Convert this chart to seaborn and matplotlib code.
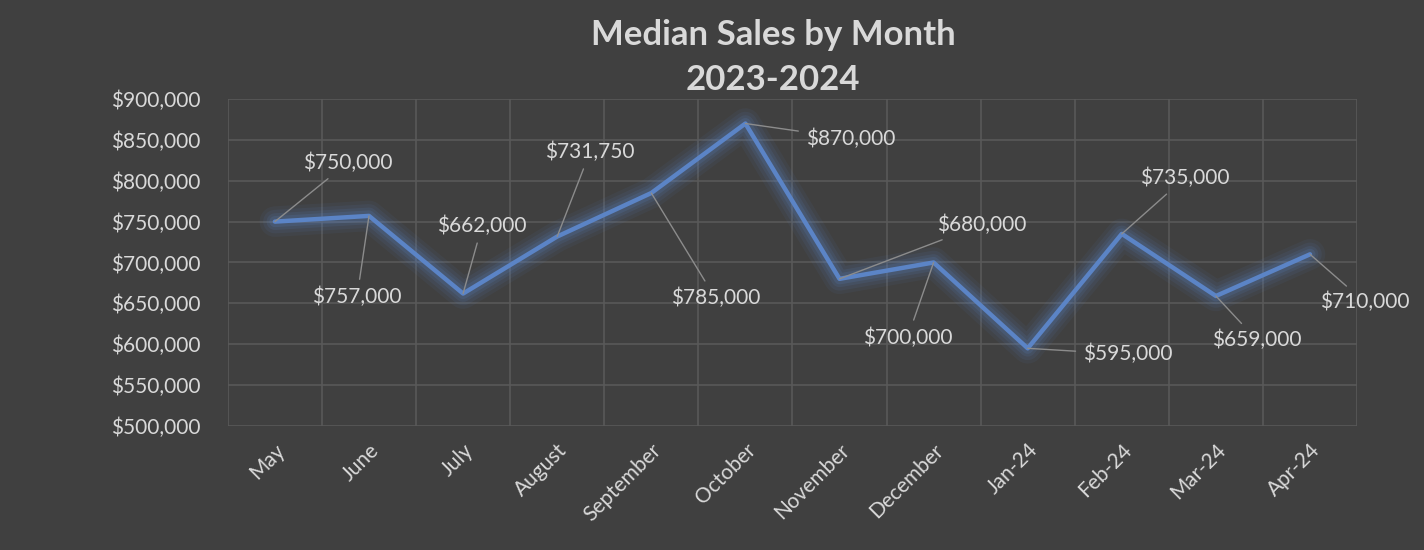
import pandas as pd
import matplotlib.pyplot as plt
import matplotlib.ticker as mticker
import seaborn as sns

# chart values
months = ["May", "June", "July", "August", "September", "October",
          "November", "December", "Jan-24", "Feb-24", "Mar-24", "Apr-24"]
median_sales = [750000, 757000, 662000, 731750, 785000, 870000,
                680000, 700000, 595000, 735000, 659000, 710000]

# label offsets in pixels from each point (style only)
label_offsets = [(73, 59), (-12, -81), (19, 68), (33, 85), (64, -105), (105, -15),
                 (142, 54), (-26, -75), (100, -6), (63, 56), (41, -44), (55, -48)]

bg = "#404040"
text_color = "#d9d9d9"
grid_color = "#595959"
line_color = "#5b84c6"

sns.set_style("dark")
plt.rcParams["font.family"] = ["Lato", "DejaVu Sans"]

data = pd.DataFrame({"month": months, "sales": median_sales})

fig = plt.figure(figsize=(14.24, 5.5), dpi=100, facecolor=bg)
ax = fig.add_axes([0.160, 0.2255, 0.793, 0.5945])
ax.set_facecolor(bg)

# soft glow under the line
for lw, a in [(22, 0.07), (17, 0.09), (12, 0.12), (8, 0.16)]:
    sns.lineplot(x="month", y="sales", data=data, sort=False, ax=ax,
                 color=line_color, linewidth=lw, alpha=a, legend=False)
sns.lineplot(x="month", y="sales", data=data, sort=False, ax=ax,
             color=line_color, linewidth=3.2, legend=False)

# data labels with leader lines
for i, (m, v) in enumerate(zip(months, median_sales)):
    ax.annotate(f"${v:,.0f}", xy=(i, v), xytext=label_offsets[i],
                textcoords="offset pixels", ha="center", va="center",
                fontsize=15, color=text_color,
                arrowprops=dict(arrowstyle="-", color="#8c8c8c", lw=1,
                                shrinkA=3, shrinkB=0))

ax.set_xlim(-0.5, len(months) - 0.5)
ax.set_ylim(500000, 900000)
ax.yaxis.set_major_locator(mticker.MultipleLocator(50000))
ax.yaxis.set_major_formatter(mticker.StrMethodFormatter("${x:,.0f}"))
ax.set_xticks(range(len(months)))
ax.set_xticklabels(months, rotation=45, ha="right", rotation_mode="anchor")
ax.set_xticks([i - 0.5 for i in range(len(months) + 1)], minor=True)

ax.grid(True, axis="y", which="major", color=grid_color, lw=1.2)
ax.grid(True, axis="x", which="minor", color=grid_color, lw=1.2)
ax.grid(False, axis="x", which="major")
ax.tick_params(axis="both", which="both", length=0, colors=text_color, labelsize=15)
ax.tick_params(axis="y", pad=20)
ax.tick_params(axis="x", pad=10)
for s in ax.spines.values():
    s.set_visible(False)
ax.set_xlabel("")
ax.set_ylabel("")

fig.suptitle("Median Sales by Month\n2023-2024", x=0.543, y=0.965,
             fontsize=25, fontweight="bold", color=text_color, linespacing=1.5)

fig.savefig("out.png", dpi=100, facecolor=bg)
